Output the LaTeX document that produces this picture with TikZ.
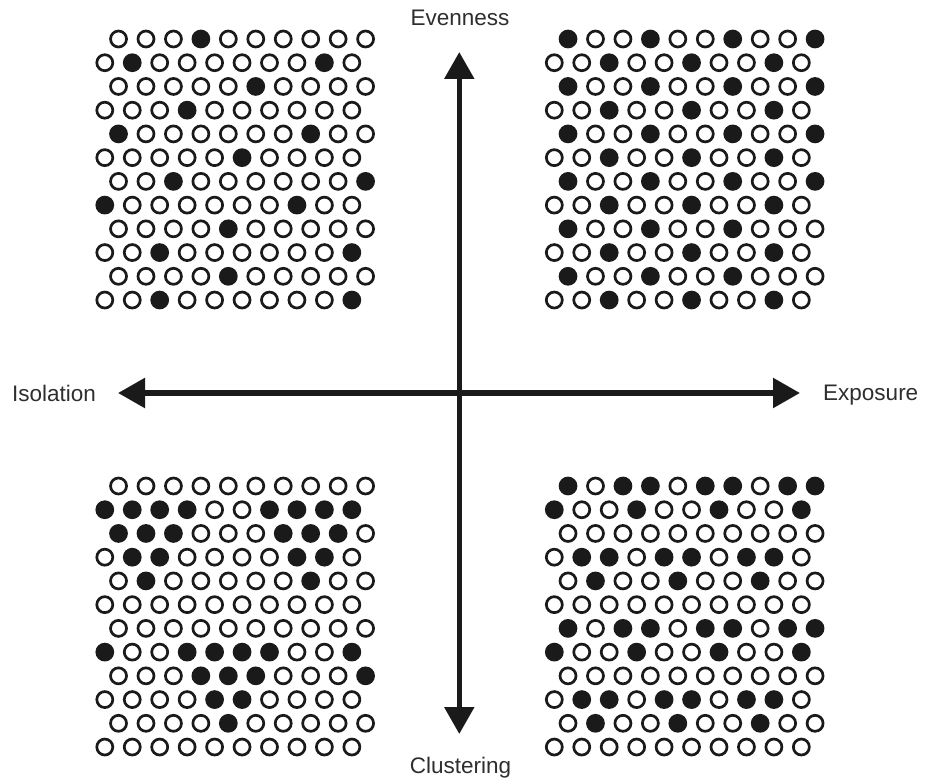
\documentclass[tikz,border=0pt]{standalone}
\usepackage{fontspec}
\setmainfont{Liberation Sans}
\usetikzlibrary{arrows.meta}
\definecolor{ink}{HTML}{1A1A1A}
\definecolor{labgray}{HTML}{2E2E2E}
\tikzset{
  dot/.style={circle, inner sep=0pt, minimum size=16pt, line width=2.7pt, draw=ink},
  opendot/.style={dot, fill=white},
  fulldot/.style={dot, fill=ink},
  axisline/.style={line width=5.5pt, draw=ink,
    {Triangle[length=27pt,width=29pt]}-{Triangle[length=27pt,width=29pt]}},
  lab/.style={inner sep=0pt, text=labgray, font=\fontsize{22.5}{27}\selectfont},
}
% #1 name, #2 x of first dot in even rows, #3 y of first row, #4 rows
\newcommand\dotgrid[4]{%
  \foreach \rowvals [count=\r] in {#4}{%
    \foreach \v [count=\c] in \rowvals{%
      \pgfmathsetmacro\xx{#2+(\c-1)*27.45+13.725*mod(\r,2)}%
      \pgfmathsetmacro\yy{#3+(\r-1)*23.73}%
      \ifnum\v=1
        \node[fulldot] (#1-\r-\c) at (\xx,\yy) {};%
      \else
        \node[opendot] (#1-\r-\c) at (\xx,\yy) {};%
      \fi
    }%
  }%
}
\begin{document}
\begin{tikzpicture}[x=1pt,y=-1pt]
\useasboundingbox (0,0) rectangle (928,783);
% top left: evenness / isolation
\dotgrid{tl}{104.8}{39}{
 {0,0,0,1,0,0,0,0,0,0},
 {0,1,0,0,0,0,0,0,1,0},
 {0,0,0,0,0,1,0,0,0,0},
 {0,0,0,1,0,0,0,0,0,0},
 {1,0,0,0,0,0,0,1,0,0},
 {0,0,0,0,0,1,0,0,0,0},
 {0,0,1,0,0,0,0,0,0,1},
 {1,0,0,0,0,0,0,1,0,0},
 {0,0,0,0,1,0,0,0,0,0},
 {0,0,1,0,0,0,0,0,0,1},
 {0,0,0,0,1,0,0,0,0,0},
 {0,0,1,0,0,0,0,0,0,1}}
% top right
\dotgrid{tr}{554.3}{39}{
 {1,0,0,1,0,0,1,0,0,1},
 {0,0,1,0,0,1,0,0,1,0},
 {1,0,0,1,0,0,1,0,0,1},
 {0,0,1,0,0,1,0,0,1,0},
 {1,0,0,1,0,0,1,0,0,1},
 {0,0,1,0,0,1,0,0,1,0},
 {1,0,0,1,0,0,1,0,0,1},
 {0,0,1,0,0,1,0,0,1,0},
 {1,0,0,1,0,0,1,0,0,0},
 {0,0,1,0,0,1,0,0,1,0},
 {1,0,0,1,0,0,1,0,0,0},
 {0,0,1,0,0,1,0,0,1,0}}
% bottom left
\dotgrid{bl}{104.8}{486}{
 {0,0,0,0,0,0,0,0,0,0},
 {1,1,1,1,0,0,1,1,1,1},
 {1,1,1,0,0,0,1,1,1,0},
 {0,1,1,0,0,0,0,1,1,0},
 {0,1,0,0,0,0,0,1,0,0},
 {0,0,0,0,0,0,0,0,0,0},
 {0,0,0,0,0,0,0,0,0,0},
 {1,0,0,1,1,1,1,0,0,1},
 {0,0,0,1,1,1,0,0,0,1},
 {0,0,0,0,1,1,0,0,0,0},
 {0,0,0,0,1,0,0,0,0,0},
 {0,0,0,0,0,0,0,0,0,0}}
% bottom right
\dotgrid{br}{554.3}{486}{
 {1,0,1,1,0,1,1,0,1,1},
 {1,0,0,1,0,0,1,0,0,1},
 {0,0,0,0,0,0,0,0,0,0},
 {0,1,1,0,1,1,0,1,1,0},
 {0,1,0,0,1,0,0,1,0,0},
 {0,0,0,0,0,0,0,0,0,0},
 {1,0,1,1,0,1,1,0,1,1},
 {1,0,0,1,0,0,1,0,0,1},
 {0,0,0,0,0,0,0,0,0,0},
 {0,1,1,0,1,1,0,1,1,0},
 {0,1,0,0,1,0,0,1,0,0},
 {0,0,0,0,0,0,0,0,0,0}}
% axes
\coordinate (N) at (459.3,52);
\coordinate (S) at (459.3,734);
\coordinate (W) at (118,393);
\coordinate (E) at (800,393);
\draw[axisline] (S) -- (N);
\draw[axisline] (W) -- (E);
% labels
\node[lab, anchor=base] (even) at (460,26) {Evenness};
\node[lab, anchor=base] (clus) at (460.5,773) {Clustering};
\node[lab, anchor=base west] (isol) at (12,401) {Isolation};
\node[lab, anchor=base west] (expo) at (823,400.5) {Exposure};
\end{tikzpicture}
\end{document}
